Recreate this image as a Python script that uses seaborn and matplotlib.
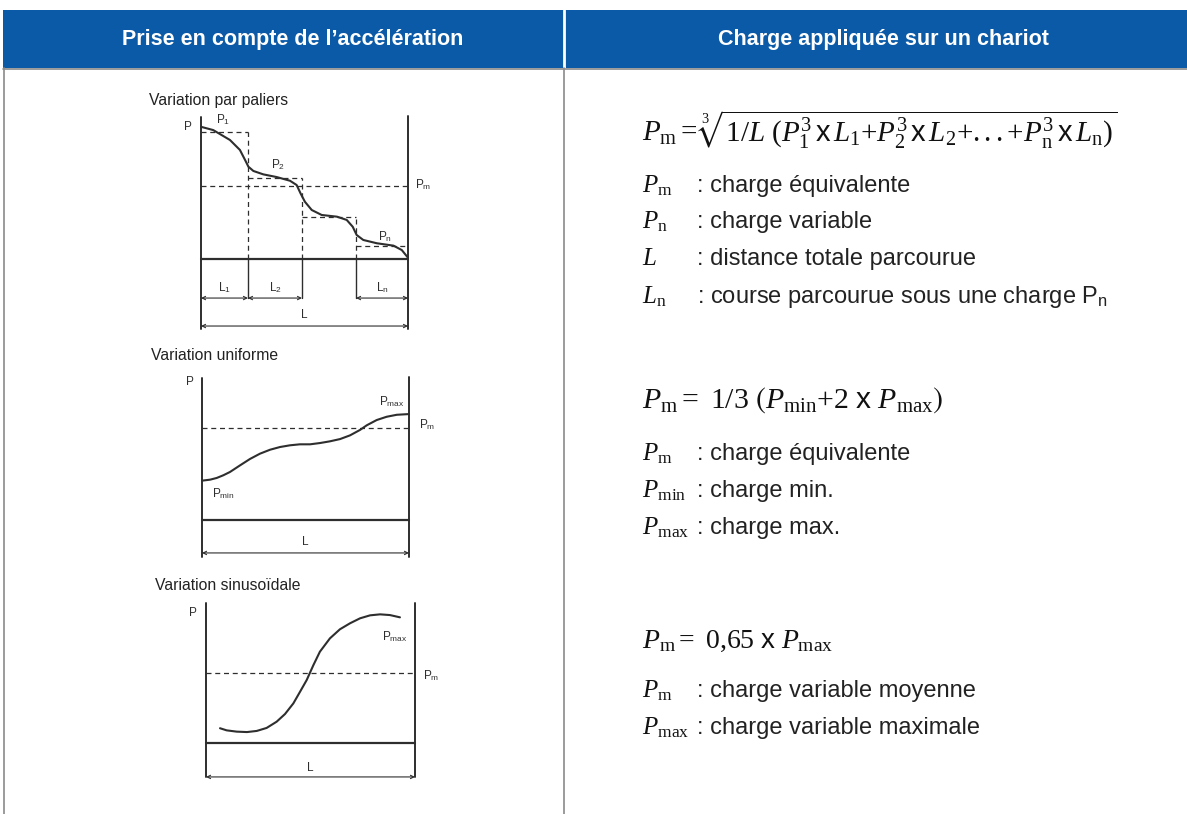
import matplotlib
matplotlib.use("Agg")
import matplotlib.pyplot as plt
from matplotlib.patches import Rectangle
import seaborn as sns

# ---- data ----
headers = ["Prise en compte de l\u2019accélération", "Charge appliquée sur un chariot"]
diagram_titles = ["Variation par paliers", "Variation uniforme", "Variation sinusoïdale"]

# stepped variation
step_edges = [0, 2.27, 4.88, 7.49, 10]
step_levels = [8.94, 5.70, 2.96, 0.92]
step_pm = 5.14
step_x = [0.00, 0.59, 1.40, 1.88, 2.13, 2.29, 2.53, 3.01, 3.66, 4.30, 4.62, 4.81,
          5.02, 5.35, 5.83, 6.57, 7.04, 7.33, 7.52, 7.84, 8.49, 9.30, 9.70, 10.0]
step_y = [9.31, 9.08, 8.38, 7.68, 6.97, 6.50, 6.20, 5.96, 5.77, 5.51, 5.21, 4.62,
          4.03, 3.45, 3.10, 2.98, 2.75, 2.27, 1.69, 1.34, 1.11, 0.94, 0.63, 0.09]

# uniform variation
uni_pm = 6.48
uni_x = [0.00, 0.39, 0.71, 1.03, 1.35, 1.84, 2.32, 2.80, 3.29, 3.77, 4.25, 4.73,
         5.22, 5.70, 6.18, 6.67, 7.15, 7.63, 7.96, 8.44, 8.92, 9.41, 10.0]
uni_y = [2.77, 2.84, 2.96, 3.15, 3.38, 3.85, 4.30, 4.67, 4.95, 5.14, 5.26, 5.33,
         5.33, 5.42, 5.54, 5.70, 5.96, 6.34, 6.67, 7.04, 7.27, 7.41, 7.46]

# sinusoidal variation
sin_pm = 4.93
sin_x = [0.67, 0.99, 1.47, 1.96, 2.43, 2.90, 3.38, 3.78, 4.18, 4.50, 4.82,
         5.14, 5.45, 5.93, 6.41, 6.89, 7.37, 7.85, 8.33, 8.80, 9.28]
sin_y = [1.04, 0.89, 0.80, 0.77, 0.85, 1.06, 1.50, 2.04, 2.79, 3.61, 4.44,
         5.49, 6.43, 7.37, 8.01, 8.43, 8.78, 8.99, 9.06, 9.01, 8.85]

formulas = [
    r"$P_{\mathrm{m}}{=}\sqrt[3]{1/L\ (P_{\mathrm{1}}^{3}\,\mathsf{x}\,L_{\mathrm{1}}{+}P_{\mathrm{2}}^{3}\,\mathsf{x}\,L_{\mathrm{2}}{+}...{+}P_{\mathrm{n}}^{3}\,\mathsf{x}\,L_{\mathrm{n}})}$",
    r"$P_{\mathrm{m}}{=}\ 1/3\ \left(P_{\mathrm{min}}{+}2\ \mathsf{x}\ P_{\mathrm{max}}\right)$",
    r"$P_{\mathrm{m}}{=}\ 0{,}65\ \mathsf{x}\ P_{\mathrm{max}}$",
]
symbols = [
    [r"$P_{\mathrm{m}}$", r"$P_{\mathrm{n}}$", r"$L$", r"$L_{\mathrm{n}}$"],
    [r"$P_{\mathrm{m}}$", r"$P_{\mathrm{min}}$", r"$P_{\mathrm{max}}$"],
    [r"$P_{\mathrm{m}}$", r"$P_{\mathrm{max}}$"],
]
meanings = [
    [": charge équivalente", ": charge variable", ": distance totale parcourue",
     r": course parcourue sous une charge P$_{\mathsf{n}}$"],
    [": charge équivalente", ": charge min.", ": charge max."],
    [": charge variable moyenne", ": charge variable maximale"],
]

# ---- style ----
sns.set_theme(style="white")
plt.rcParams["font.family"] = ["Liberation Sans", "DejaVu Sans"]
plt.rcParams["mathtext.fontset"] = "custom"
plt.rcParams["mathtext.rm"] = "Liberation Serif"
plt.rcParams["mathtext.it"] = "Liberation Serif:italic"
plt.rcParams["mathtext.bf"] = "Liberation Serif:bold"
plt.rcParams["mathtext.sf"] = "Liberation Sans"
plt.rcParams["mathtext.fallback"] = "stix"

W, H = 1187, 814
blue = "#0b5aa7"
ink = "#2e2e2e"
grid = "#8a8a8a"

fig = plt.figure(figsize=(W / 100, H / 100), dpi=100)
bg = fig.add_axes([0, 0, 1, 1])
bg.set_xlim(0, W)
bg.set_ylim(H, 0)
bg.axis("off")

# table frame
bg.add_patch(Rectangle((3, 10), W - 3, 58, color=blue, lw=0))
bg.plot([564, 564], [10, 68], color="white", lw=2)
bg.plot([3, W], [68.5, 68.5], color=grid, lw=1.2)
bg.plot([4, 4], [68, H], color=grid, lw=1.2)
bg.plot([564, 564], [68, H], color=grid, lw=1.2)
bg.text(293, 40, headers[0], color="white", fontsize=15.5, fontweight="bold", ha="center", va="center")
bg.text(883, 40, headers[1], color="white", fontsize=15.5, fontweight="bold", ha="center", va="center")

for t, (tx, ty) in zip(diagram_titles, [(149, 100), (151, 355), (155, 585)]):
    bg.text(tx, ty, t, fontsize=11.3, color="#222222", ha="left", va="center")


def place(x0, sx, y0, sy, xlim, ylim):
    left = x0 + xlim[0] * sx
    right = x0 + xlim[1] * sx
    top = y0 - ylim[1] * sy
    bottom = y0 - ylim[0] * sy
    ax = fig.add_axes([left / W, 1 - bottom / H, (right - left) / W, (bottom - top) / H])
    ax.set_xlim(*xlim)
    ax.set_ylim(*ylim)
    ax.axis("off")
    return ax


def dim(ax, xa, xb, y, label, ly):
    ax.annotate("", xy=(xa, y), xytext=(xb, y),
                arrowprops=dict(arrowstyle="<->", lw=0.8, color=ink, mutation_scale=6,
                                shrinkA=0, shrinkB=0))
    ax.text((xa + xb) / 2, ly, label, fontsize=8.5, ha="center", va="center", color=ink)


def frame(ax, ytop_l, ytop_r, ybot):
    ax.plot([0, 0], [ybot, ytop_l], color=ink, lw=1.4, clip_on=False)
    ax.plot([10, 10], [ybot, ytop_r], color=ink, lw=1.4, clip_on=False)
    ax.plot([0, 10], [0, 0], color=ink, lw=1.6, clip_on=False)


lab = dict(fontsize=8.5, color=ink, ha="center", va="center")

# diagram 1: stepped
ax1 = place(201, 20.7, 259, 14.2, (-1.5, 11.5), (-5.2, 10.5))
frame(ax1, 10.0, 10.1, -4.9)
for i, lvl in enumerate(step_levels):
    ax1.plot([step_edges[i], step_edges[i + 1]], [lvl, lvl], color=ink, lw=0.9, ls=(0, (4, 3)))
    if i < len(step_levels) - 1:
        ax1.plot([step_edges[i + 1]] * 2, [0, lvl], color=ink, lw=0.9, ls=(0, (4, 3)))
        ax1.plot([step_edges[i + 1]] * 2, [-2.75, 0], color=ink, lw=1.0)
ax1.plot([0, 10], [step_pm, step_pm], color=ink, lw=0.9, ls=(0, (4, 3)))
sns.lineplot(x=step_x, y=step_y, ax=ax1, color=ink, lw=1.5, estimator=None, sort=False)
ax1.text(-0.63, 9.3, "P", **lab)
ax1.text(1.06, 9.79, r"P$_{\mathsf{1}}$", **lab)
ax1.text(3.72, 6.62, r"P$_{\mathsf{2}}$", **lab)
ax1.text(10.75, 5.21, r"P$_{\mathsf{m}}$", **lab)
ax1.text(8.89, 1.55, r"P$_{\mathsf{n}}$", **lab)
dim(ax1, step_edges[0], step_edges[1], -2.75, r"L$_{\mathsf{1}}$", -2.04)
dim(ax1, step_edges[1], step_edges[2], -2.75, r"L$_{\mathsf{2}}$", -2.04)
dim(ax1, step_edges[3], step_edges[4], -2.75, r"L$_{\mathsf{n}}$", -2.04)
dim(ax1, 0, 10, -4.72, "L", -3.94)

# diagram 2: uniform
ax2 = place(202, 20.7, 520, 14.2, (-1.5, 11.5), (-2.8, 10.3))
frame(ax2, 10.0, 10.1, -2.6)
ax2.plot([0, 10], [uni_pm, uni_pm], color=ink, lw=0.9, ls=(0, (4, 3)))
sns.lineplot(x=uni_x, y=uni_y, ax=ax2, color=ink, lw=1.5, estimator=None, sort=False)
ax2.text(-0.58, 9.72, "P", **lab)
ax2.text(9.18, 8.31, r"P$_{\mathsf{max}}$", **lab)
ax2.text(10.9, 6.69, r"P$_{\mathsf{m}}$", **lab)
ax2.text(1.01, 1.83, r"P$_{\mathsf{min}}$", **lab)
dim(ax2, 0, 10, -2.32, "L", -1.55)

# diagram 3: sinusoidal
ax3 = place(206, 20.9, 743, 14.2, (-1.5, 11.5), (-2.7, 10.1))
frame(ax3, 9.86, 9.86, -2.4)
ax3.plot([0, 10], [sin_pm, sin_pm], color=ink, lw=0.9, ls=(0, (4, 3)))
sns.lineplot(x=sin_x, y=sin_y, ax=ax3, color=ink, lw=1.5, estimator=None, sort=False)
ax3.text(-0.62, 9.15, "P", **lab)
ax3.text(9.04, 7.46, r"P$_{\mathsf{max}}$", **lab)
ax3.text(10.75, 4.72, r"P$_{\mathsf{m}}$", **lab)
dim(ax3, 0, 10, -2.39, "L", -1.76)

# right column: formulas and legends
formula_base = [140, 408, 648]
formula_size = [21, 21.5, 20]
line_base = [[192, 228, 265, 303], [460, 497, 534], [697, 734]]
for f, fb, fs, syms, means, lbs in zip(formulas, formula_base, formula_size, symbols, meanings, line_base):
    bg.text(642, fb, f, fontsize=fs, color="#111111", ha="left", va="baseline")
    for s, m, b in zip(syms, means, lbs):
        bg.text(642, b, s, fontsize=18, color="#111111", ha="left", va="baseline")
        bg.text(697, b, m, fontsize=17, color="#222222", ha="left", va="baseline")

fig.savefig("out.png", dpi=100)
